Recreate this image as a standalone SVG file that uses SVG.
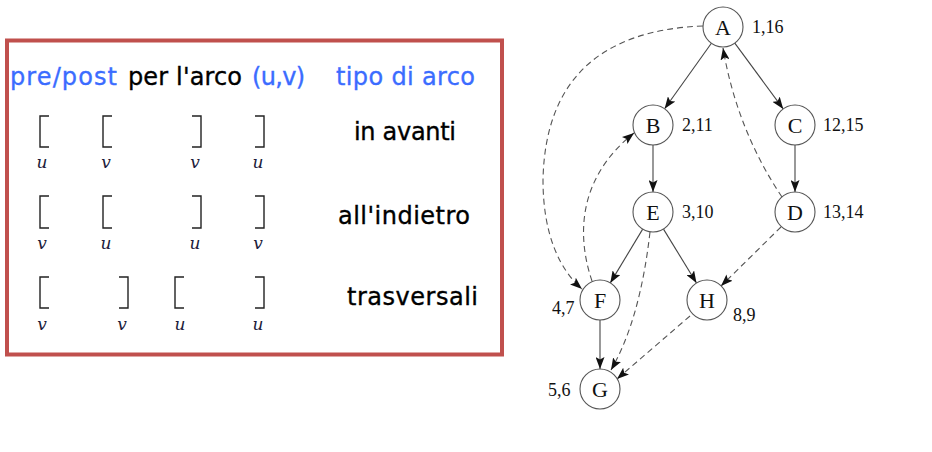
<svg xmlns="http://www.w3.org/2000/svg" width="932" height="452" viewBox="0 0 932 452">
  <style>
    .hdr { font-family: "DejaVu Sans", "Open Sans", sans-serif; font-size: 24px; stroke-width: 0.35px; }
    .blue { fill: #3b6cff; stroke: #3b6cff; }
    .blk { fill: #000; stroke: #000; }
    .br { fill: none; stroke: #222; stroke-width: 1.4; }
    .lv { font-family: "DejaVu Serif", "Liberation Serif", serif; font-style: italic; font-size: 17px; fill: #1c1c3a; text-anchor: middle; }
    .node circle { fill: #fff; stroke: #555; stroke-width: 1.1; }
    .node text { font-family: "Liberation Serif", "DejaVu Serif", serif; font-size: 22px; fill: #111; text-anchor: middle; dominant-baseline: central; }
    .num { font-family: "Liberation Serif", "DejaVu Serif", serif; font-size: 18px; fill: #111; dominant-baseline: central; }
    .e { fill: none; stroke: #444; stroke-width: 1.1; marker-end: url(#ah); }
    .d { stroke-dasharray: 6 4; stroke: #555; }
  </style>
  <defs>
    <marker id="ah" viewBox="0 0 12 9" refX="12" refY="4.5" markerWidth="12" markerHeight="9" markerUnits="userSpaceOnUse" orient="auto">
      <path d="M0,0 L12,4.5 L0,9 L2.5,4.5 z" fill="#111"/>
    </marker>
  </defs>
  <rect width="932" height="452" fill="#fff"/>

  <!-- legend panel -->
  <g id="legend">
    <rect x="7" y="40.5" width="495" height="314" fill="none" stroke="#c0504d" stroke-width="4"/>
    <text class="hdr blue" x="10" y="85" textLength="107">pre/post</text>
    <text class="hdr blk" x="128" y="85" textLength="114">per l'arco</text>
    <text class="hdr blue" x="252" y="85" textLength="53">(u,v)</text>
    <text class="hdr blue" x="336" y="85" textLength="139">tipo di arco</text>

    <!-- forward -->
    <path class="br" d="M49,116 H40 V147 H49"/>
    <path class="br" d="M112,116 H103 V147 H112"/>
    <path class="br" d="M192,116 H201 V147 H192"/>
    <path class="br" d="M255,116 H264 V147 H255"/>
    <text class="lv" x="42" y="168">u</text>
    <text class="lv" x="106" y="168">v</text>
    <text class="lv" x="195" y="168">v</text>
    <text class="lv" x="258" y="168">u</text>
    <text class="hdr blk" x="354" y="140" textLength="102">in avanti</text>

    <!-- backward -->
    <path class="br" d="M49,196 H40 V228 H49"/>
    <path class="br" d="M112,196 H103 V228 H112"/>
    <path class="br" d="M192,196 H201 V228 H192"/>
    <path class="br" d="M255,196 H264 V228 H255"/>
    <text class="lv" x="42" y="249">v</text>
    <text class="lv" x="106" y="249">u</text>
    <text class="lv" x="195" y="249">u</text>
    <text class="lv" x="258" y="249">v</text>
    <text class="hdr blk" x="338" y="224" textLength="132">all'indietro</text>

    <!-- cross -->
    <path class="br" d="M49,277 H40 V308 H49"/>
    <path class="br" d="M119,277 H128 V308 H119"/>
    <path class="br" d="M184,277 H175 V308 H184"/>
    <path class="br" d="M255,277 H264 V308 H255"/>
    <text class="lv" x="42" y="330">v</text>
    <text class="lv" x="122" y="330">v</text>
    <text class="lv" x="180" y="330">u</text>
    <text class="lv" x="258" y="330">u</text>
    <text class="hdr blk" x="347" y="305" textLength="131">trasversali</text>
  </g>

  <!-- edges -->
  <g id="edges">
    <path class="e" d="M711.4,43.3 L664.6,108.7"/>
    <path class="e" d="M734.8,43.1 L783.2,108.9"/>
    <path class="e" d="M653,145 L653,192"/>
    <path class="e" d="M795,145 L795,192"/>
    <path class="e" d="M642.7,229.1 L610.3,282.9"/>
    <path class="e" d="M663.5,229.1 L696.5,283"/>
    <path class="e" d="M600,320 L600,369"/>
    <path class="e d" d="M782,197 Q737,130 723,48"/>
    <path class="e d" d="M592,281 C578,240 575,180 634,133"/>
    <path class="e d" d="M703,26 C600,30 545,80 543,180 C543,235 560,270 582,289"/>
    <path class="e d" d="M650,232 Q640,320 611,370"/>
    <path class="e d" d="M690,316 L617,379"/>
    <path class="e d" d="M781,227 L721,286"/>
  </g>

  <!-- nodes -->
  <g id="nA" class="node"><circle cx="723" cy="27" r="20"/><text x="723" y="27">A</text></g>
  <g id="nB" class="node"><circle cx="653" cy="125" r="20"/><text x="653" y="125">B</text></g>
  <g id="nC" class="node"><circle cx="795" cy="125" r="20"/><text x="795" y="125">C</text></g>
  <g id="nD" class="node"><circle cx="795" cy="212" r="20"/><text x="795" y="212">D</text></g>
  <g id="nE" class="node"><circle cx="653" cy="212" r="20"/><text x="653" y="212">E</text></g>
  <g id="nF" class="node"><circle cx="600" cy="300" r="20"/><text x="600" y="300">F</text></g>
  <g id="nH" class="node"><circle cx="707" cy="300" r="20"/><text x="707" y="300">H</text></g>
  <g id="nG" class="node"><circle cx="600" cy="389" r="20"/><text x="600" y="389">G</text></g>

  <!-- visit times -->
  <g id="times">
    <text class="num" x="752" y="27">1,16</text>
    <text class="num" x="682" y="125">2,11</text>
    <text class="num" x="823" y="125">12,15</text>
    <text class="num" x="823" y="212">13,14</text>
    <text class="num" x="682" y="212">3,10</text>
    <text class="num" x="552" y="308">4,7</text>
    <text class="num" x="733" y="315">8,9</text>
    <text class="num" x="548" y="390">5,6</text>
  </g>
</svg>
